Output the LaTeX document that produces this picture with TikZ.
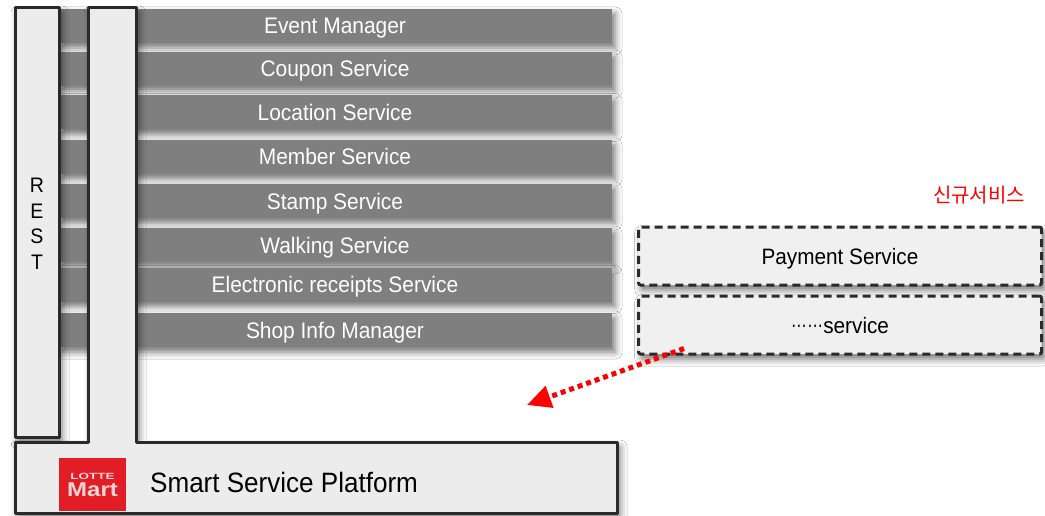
\documentclass[tikz,border=0pt]{standalone}
\usepackage{fontspec}
\setmainfont{Liberation Sans}
\newfontfamily\condfont[FakeStretch=0.93]{Liberation Sans}
\newfontfamily\krfont{Noto Sans CJK KR}
\usetikzlibrary{arrows.meta,shadows.blur}
\definecolor{barfill}{HTML}{7F7F7F}
\definecolor{colfill}{HTML}{ECECEC}
\definecolor{edge}{HTML}{2A2A2A}
\definecolor{boxfill}{HTML}{F0F0F0}
\definecolor{lottered}{HTML}{E31D25}
\definecolor{lottetext}{HTML}{F6D6D6}
\begin{document}
\begin{tikzpicture}[x=1pt,y=-1pt,
  softshadow/.style={blur shadow={shadow xshift=3pt, shadow yshift=-5pt, shadow blur radius=7pt, shadow opacity=55}},
  bar/.style={fill=barfill, minimum width=554pt, minimum height=34pt, inner sep=0pt,
    text height=16pt, text depth=0pt,
    text=white, font=\condfont\fontsize{22.5}{26}\selectfont, softshadow},
  column/.style={fill=colfill, draw=edge, line width=3pt, line join=round, softshadow},
  newsvc/.style={fill=boxfill, draw=edge, line width=3pt, dash pattern=on 8pt off 5pt,
    rounded corners=2pt, minimum width=403pt, minimum height=58pt, inner sep=0pt,
    text height=16pt, text depth=0pt,
    font=\condfont\fontsize{22.3}{26}\selectfont, softshadow},
  flow/.style={draw=red, line width=5pt, dash pattern=on 5pt off 4pt,
    -{Triangle[length=24pt,width=22pt]}}
]
\useasboundingbox[fill=white] (0,0) rectangle (1045,516);

% service bars
\node[bar] (b1) at (335,26)    {Event Manager};
\node[bar] (b2) at (335,69)    {Coupon Service};
\node[bar] (b3) at (335,112.5) {Location Service};
\node[bar] (b4) at (335,157)   {Member Service};
\node[bar] (b5) at (335,201)   {Stamp Service};
\node[bar] (b6) at (335,245)   {Walking Service};
\node[bar] (b7) at (335,284.5) {Electronic receipts Service};
\node[bar] (b8) at (335,330)   {Shop Info Manager};

% REST column
\draw[column] (15,8) rectangle (59,437);
\node[font=\condfont\fontsize{21}{25.5}\selectfont, align=center, inner sep=0pt] (rest) at (37,224) {R\\E\\S\\T};

% platform T-shape
\draw[column] (88,8) -- (136,8) -- (136,442) -- (617,442) -- (617,513)
  -- (15,513) -- (15,442) -- (88,442) -- cycle;

% logo
\node[fill=lottered, minimum width=67pt, minimum height=53pt, inner sep=0pt] (logo) at (92.5,484.5) {};
\node[text=lottetext, font=\fontsize{9}{9}\bfseries, xscale=1.5, inner sep=0pt] (lotte) at (92.5,476.5) {LOTTE};
\node[text=lottetext, font=\fontsize{20}{20}\bfseries, xscale=1.2, inner sep=0pt] (mart) at (92.5,490) {Mart};
\node[font=\condfont\fontsize{28}{32}\selectfont, anchor=base west, inner sep=0pt] (platform) at (150,492.5) {Smart Service Platform};

% new services
\node[text=red, font=\krfont\fontsize{20}{22}\selectfont, inner sep=0pt] (newlabel) at (979,195) {신규서비스};
\node[newsvc] (pay) at (840,256) {Payment Service};
\node[newsvc] (svc) at (840,325) {\raisebox{5.5pt}{\scalebox{0.78}[1]{……}}service};

% arrow
\coordinate (arrstart) at ([xshift=47pt,yshift=7pt]svc.south west);
\coordinate (arrend) at (527,405);
\draw[flow] (arrstart) -- (arrend);
\end{tikzpicture}
\end{document}
